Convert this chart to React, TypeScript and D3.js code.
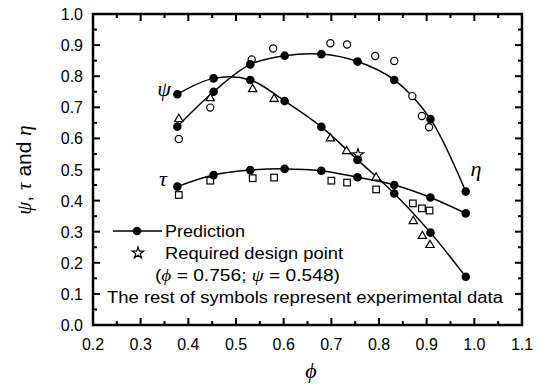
import React, { useEffect, useRef } from 'react';
import * as d3 from 'd3';

// prediction points (flow coefficient phi)
const phiPred = [0.377, 0.453, 0.53, 0.602, 0.679, 0.755, 0.832, 0.908, 0.982];
const psiPred = [0.742, 0.793, 0.788, 0.72, 0.637, 0.531, 0.423, 0.297, 0.155];
const tauPred = [0.445, 0.482, 0.498, 0.502, 0.496, 0.475, 0.45, 0.41, 0.359];
const etaPred = [0.638, 0.75, 0.838, 0.866, 0.871, 0.847, 0.788, 0.662, 0.429];

// experimental data
const etaExpPhi = [0.38, 0.446, 0.533, 0.578, 0.698, 0.733, 0.792, 0.832, 0.87, 0.89, 0.905];
const etaExp = [0.598, 0.699, 0.854, 0.889, 0.906, 0.902, 0.865, 0.849, 0.736, 0.672, 0.636];
const psiExpPhi = [0.38, 0.446, 0.535, 0.58, 0.698, 0.732, 0.794, 0.872, 0.891, 0.907];
const psiExp = [0.662, 0.729, 0.758, 0.727, 0.6, 0.559, 0.474, 0.334, 0.286, 0.257];
const tauExpPhi = [0.38, 0.446, 0.535, 0.58, 0.7, 0.733, 0.794, 0.871, 0.89, 0.906];
const tauExp = [0.418, 0.464, 0.472, 0.474, 0.464, 0.458, 0.436, 0.391, 0.375, 0.368];

const designPoint = [0.756, 0.548];

const xTicks = [0.2, 0.3, 0.4, 0.5, 0.6, 0.7, 0.8, 0.9, 1.0, 1.1];
const yTicks = [0, 0.1, 0.2, 0.3, 0.4, 0.5, 0.6, 0.7, 0.8, 0.9, 1.0];

const SANS = 'Liberation Sans, Arial, sans-serif';
const SERIF = 'Liberation Serif, Times New Roman, serif';

export default function App() {
  const ref = useRef<SVGSVGElement>(null);

  useEffect(() => {
    if (!ref.current) return;
    const svg = d3.select(ref.current);
    svg.selectAll('*').remove();

    const left = 93;
    const right = 522;
    const top = 14;
    const bottom = 325;

    const x = d3.scaleLinear().domain([0.2, 1.1]).range([left, right]);
    const y = d3.scaleLinear().domain([0, 1]).range([bottom, top]);

    // ------- ticks (inward, all four sides) -------
    const ticks = svg.append('g').attr('stroke', '#000').attr('stroke-width', 2);
    const minorX = d3.range(0.25, 1.1, 0.1);
    const minorY = d3.range(0.05, 1.0, 0.1);
    xTicks.forEach((t) => {
      ticks.append('line').attr('x1', x(t)).attr('x2', x(t)).attr('y1', bottom).attr('y2', bottom - 7);
      ticks.append('line').attr('x1', x(t)).attr('x2', x(t)).attr('y1', top).attr('y2', top + 7);
    });
    minorX.forEach((t) => {
      ticks.append('line').attr('x1', x(t)).attr('x2', x(t)).attr('y1', bottom).attr('y2', bottom - 4);
      ticks.append('line').attr('x1', x(t)).attr('x2', x(t)).attr('y1', top).attr('y2', top + 4);
    });
    yTicks.forEach((t) => {
      ticks.append('line').attr('x1', left).attr('x2', left + 7).attr('y1', y(t)).attr('y2', y(t));
      ticks.append('line').attr('x1', right).attr('x2', right - 7).attr('y1', y(t)).attr('y2', y(t));
    });
    minorY.forEach((t) => {
      ticks.append('line').attr('x1', left).attr('x2', left + 4).attr('y1', y(t)).attr('y2', y(t));
      ticks.append('line').attr('x1', right).attr('x2', right - 4).attr('y1', y(t)).attr('y2', y(t));
    });

    svg
      .append('rect')
      .attr('x', left)
      .attr('y', top)
      .attr('width', right - left)
      .attr('height', bottom - top)
      .attr('fill', 'none')
      .attr('stroke', '#000')
      .attr('stroke-width', 2.5);

    // ------- tick labels -------
    svg
      .append('g')
      .selectAll('text')
      .data(xTicks)
      .enter()
      .append('text')
      .attr('x', (d) => x(d))
      .attr('y', 350)
      .attr('text-anchor', 'middle')
      .attr('font-family', SANS)
      .attr('font-size', 16)
      .text((d) => d.toFixed(1));

    svg
      .append('g')
      .selectAll('text')
      .data(yTicks)
      .enter()
      .append('text')
      .attr('x', 83)
      .attr('y', (d) => y(d) + 6)
      .attr('text-anchor', 'end')
      .attr('font-family', SANS)
      .attr('font-size', 16)
      .text((d) => d.toFixed(1));

    // ------- axis titles -------
    svg
      .append('text')
      .attr('x', 311)
      .attr('y', 378)
      .attr('text-anchor', 'middle')
      .attr('font-family', SERIF)
      .attr('font-style', 'italic')
      .attr('font-size', 22)
      .text('ϕ');

    const yTitle = svg
      .append('text')
      .attr('transform', 'translate(31,170) rotate(-90)')
      .attr('text-anchor', 'middle')
      .attr('font-family', SANS)
      .attr('font-size', 21);
    yTitle.append('tspan').attr('font-family', SERIF).attr('font-style', 'italic').text('ψ');
    yTitle.append('tspan').text(', ');
    yTitle.append('tspan').attr('font-family', SERIF).attr('font-style', 'italic').text('τ');
    yTitle.append('tspan').text(' and ');
    yTitle.append('tspan').attr('font-family', SERIF).attr('font-style', 'italic').text('η');

    // ------- prediction lines -------
    const line = d3
      .line<[number, number]>()
      .x((d) => x(d[0]))
      .y((d) => y(d[1]))
      .curve(d3.curveCatmullRom.alpha(0.5));

    [psiPred, tauPred, etaPred].forEach((vals) => {
      const pts = phiPred.map((p, i) => [p, vals[i]] as [number, number]);
      svg
        .append('path')
        .datum(pts)
        .attr('fill', 'none')
        .attr('stroke', '#000')
        .attr('stroke-width', 1.5)
        .attr('d', line);
    });

    // ------- experimental symbols -------
    const exp = svg.append('g').attr('fill', '#fff').attr('stroke', '#000').attr('stroke-width', 1.2);
    etaExpPhi.forEach((p, i) => {
      exp.append('circle').attr('cx', x(p)).attr('cy', y(etaExp[i])).attr('r', 3.6);
    });
    const tri = d3.symbol().type(d3.symbolTriangle).size(30);
    psiExpPhi.forEach((p, i) => {
      exp
        .append('path')
        .attr('d', tri)
        .attr('transform', `translate(${x(p)},${y(psiExp[i])})`);
    });
    tauExpPhi.forEach((p, i) => {
      exp
        .append('rect')
        .attr('x', x(p) - 3.3)
        .attr('y', y(tauExp[i]) - 3.3)
        .attr('width', 6.6)
        .attr('height', 6.6);
    });

    const star = d3.symbol().type(d3.symbolStar).size(40);
    exp
      .append('path')
      .attr('d', star)
      .attr('transform', `translate(${x(designPoint[0])},${y(designPoint[1])})`);

    // ------- prediction points -------
    [psiPred, tauPred, etaPred].forEach((vals) => {
      svg
        .append('g')
        .selectAll('circle')
        .data(phiPred)
        .enter()
        .append('circle')
        .attr('cx', (d) => x(d))
        .attr('cy', (d, i) => y(vals[i]))
        .attr('r', 4.3)
        .attr('fill', '#000');
    });

    // ------- curve labels -------
    const curveLabels: [string, number, number][] = [
      ['ψ', 164, 96],
      ['τ', 163, 186],
      ['η', 476, 176],
    ];
    curveLabels.forEach(([t, lx, ly]) => {
      svg
        .append('text')
        .attr('x', lx)
        .attr('y', ly)
        .attr('text-anchor', 'middle')
        .attr('font-family', SERIF)
        .attr('font-style', 'italic')
        .attr('font-size', 22)
        .text(t);
    });

    // ------- legend -------
    const lg = svg.append('g').attr('font-family', SANS).attr('font-size', 16);
    lg.append('line')
      .attr('x1', 113)
      .attr('x2', 162)
      .attr('y1', 231)
      .attr('y2', 231)
      .attr('stroke', '#000')
      .attr('stroke-width', 1.5);
    lg.append('circle').attr('cx', 137).attr('cy', 231).attr('r', 4.3).attr('fill', '#000');
    lg.append('text')
      .attr('x', 165)
      .attr('y', 237)
      .attr('textLength', 80)
      .attr('lengthAdjust', 'spacingAndGlyphs')
      .text('Prediction');

    lg.append('path')
      .attr('d', star)
      .attr('transform', 'translate(138,253)')
      .attr('fill', '#fff')
      .attr('stroke', '#000')
      .attr('stroke-width', 1.2);
    lg.append('text')
      .attr('x', 165)
      .attr('y', 259)
      .attr('textLength', 178)
      .attr('lengthAdjust', 'spacingAndGlyphs')
      .text('Required design point');

    const dp = lg
      .append('text')
      .attr('x', 155)
      .attr('y', 281)
      .attr('textLength', 185)
      .attr('lengthAdjust', 'spacingAndGlyphs');
    dp.append('tspan').text('(');
    dp.append('tspan').attr('font-family', SERIF).attr('font-style', 'italic').text('ϕ');
    dp.append('tspan').text(' = 0.756; ');
    dp.append('tspan').attr('font-family', SERIF).attr('font-style', 'italic').text('ψ');
    dp.append('tspan').text(' = 0.548)');

    lg.append('text')
      .attr('x', 107)
      .attr('y', 303)
      .attr('textLength', 396)
      .attr('lengthAdjust', 'spacingAndGlyphs')
      .text('The rest of symbols represent experimental data');
  }, []);

  return (
    <svg
      ref={ref}
      width={544}
      height={390}
      style={{ position: 'absolute', left: 0, top: 0, background: '#fff' }}
    />
  );
}
